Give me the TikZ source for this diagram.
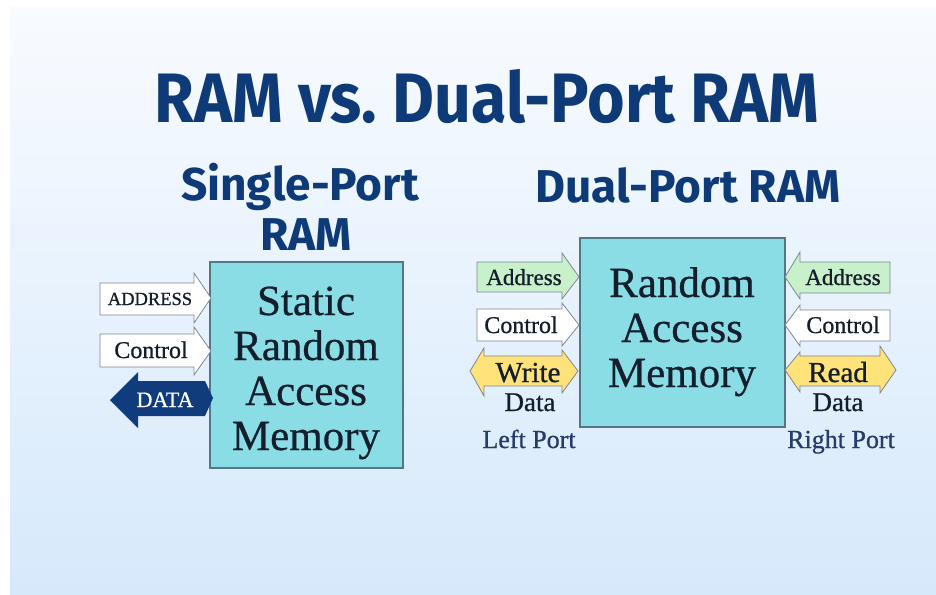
\documentclass[tikz,border=0pt]{standalone}
\usepackage{fontspec}
\setmainfont{Liberation Serif}
\newfontfamily\headfont{Fira Sans}
\newfontfamily\titlefont[FakeStretch=0.92]{Fira Sans}
\newfontfamily\semifont[FakeBold=0.9]{Liberation Serif}
\newfontfamily\memfont[FakeBold=0.6]{Liberation Serif}
\definecolor{navy}{RGB}{14,58,120}
\definecolor{datanavy}{RGB}{16,60,125}
\definecolor{boxfill}{RGB}{138,221,228}
\definecolor{boxline}{RGB}{80,120,135}
\definecolor{greenfill}{RGB}{200,240,202}
\definecolor{yellowfill}{RGB}{255,226,122}
\definecolor{arrline}{RGB}{125,135,150}
\definecolor{porttext}{RGB}{40,60,105}
\definecolor{memtext}{RGB}{20,30,45}
\definecolor{bgtop}{RGB}{248,251,255}
\definecolor{bgbot}{RGB}{214,233,251}
\tikzset{
  headtxt/.style={text=navy, anchor=base, inner sep=0pt},
  memtxt/.style={font=\memfont\fontsize{43}{45}\selectfont, text=memtext, anchor=base, inner sep=0pt},
  membox/.style={fill=boxfill, draw=boxline, line width=1.2pt},
  portarrow/.style={draw=arrline, line width=0.8pt, line join=miter},
  lbl/.style={anchor=base, inner sep=0pt, text=memtext},
  porttxt/.style={anchor=base, inner sep=0pt, font=\semifont\fontsize{26}{28}\selectfont, text=porttext},
}
\begin{document}
\begin{tikzpicture}[x=1pt, y=-1pt]
\useasboundingbox (0,0) rectangle (936,594);
\fill[white] (0,0) rectangle (936,594);
\shade[top color=bgtop, bottom color=bgbot] (10,8) rectangle (936,594);

% titles
\node[headtxt, font=\titlefont\bfseries\fontsize{70}{76}\selectfont] (title) at (487,122) {RAM vs.\ Dual-Port RAM};
\node[headtxt, font=\headfont\bfseries\fontsize{46}{50}\selectfont] (single) at (300,200) {Single-Port};
\node[headtxt, font=\headfont\bfseries\fontsize{46}{50}\selectfont] (singleram) at (306,250) {RAM};
\node[headtxt, font=\headfont\bfseries\fontsize{46}{50}\selectfont] (dual) at (688,202) {Dual-Port RAM};

% ---------- single-port ----------
\draw[membox] (210,262) rectangle (403,468);
\node[memtxt] (s1) at (306,315) {Static};
\node[memtxt] (s2) at (306,360) {Random};
\node[memtxt] (s3) at (306,405) {Access};
\node[memtxt] (s4) at (306,450) {Memory};

\draw[portarrow, fill=white] (100,283) -- (194,283) -- (194,273) -- (211,298) -- (194,323) -- (194,315) -- (100,315) -- cycle;
\node[lbl, font=\semifont\fontsize{18.5}{20}\selectfont] (saddr) at (150,305) {ADDRESS};
\draw[portarrow, fill=white] (100,334) -- (194,334) -- (194,327) -- (211,351) -- (194,375) -- (194,367) -- (100,367) -- cycle;
\node[lbl, font=\semifont\fontsize{24}{26}\selectfont] (sctrl) at (151,358) {Control};
\fill[datanavy] (110,400) -- (138,372) -- (138,381) -- (205,381) -- (213,398) -- (205,416) -- (138,416) -- (138,428) -- cycle;
\node[lbl, font=\semifont\fontsize{22}{24}\selectfont, text=white] (sdata) at (165,407) {DATA};

% ---------- dual-port ----------
\draw[membox] (580,238) rectangle (785,427);
\node[memtxt] (d1) at (682,297) {Random};
\node[memtxt] (d2) at (682,342) {Access};
\node[memtxt] (d3) at (682,387) {Memory};

% left port
\draw[portarrow, fill=greenfill] (477,262) -- (562,262) -- (562,253) -- (579,277) -- (562,299) -- (562,292) -- (477,292) -- cycle;
\node[lbl, font=\semifont\fontsize{23}{25}\selectfont] (laddr) at (524,285) {Address};
\draw[portarrow, fill=white] (477,309) -- (562,309) -- (562,303) -- (579,325) -- (562,346) -- (562,341) -- (477,341) -- cycle;
\node[lbl, font=\semifont\fontsize{24}{26}\selectfont] (lctrl) at (521,333) {Control};
\draw[portarrow, fill=yellowfill] (470,371) -- (484,348) -- (484,356) -- (562,356) -- (562,350) -- (578,371) -- (562,393) -- (562,386) -- (484,386) -- (484,396) -- cycle;
\node[lbl, font=\semifont\fontsize{29}{31}\selectfont] (lwrite) at (528,382) {Write};
\node[lbl, font=\semifont\fontsize{27}{29}\selectfont] (ldata) at (530,411) {Data};
\node[porttxt] (lport) at (529,448) {Left Port};

% right port
\draw[portarrow, fill=greenfill] (785,277) -- (800,252) -- (800,262) -- (890,262) -- (890,293) -- (800,293) -- (800,299) -- cycle;
\node[lbl, font=\semifont\fontsize{23}{25}\selectfont] (raddr) at (843,285) {Address};
\draw[portarrow, fill=white] (785,325) -- (800,305) -- (800,310) -- (890,310) -- (890,341) -- (800,341) -- (800,346) -- cycle;
\node[lbl, font=\semifont\fontsize{24}{26}\selectfont] (rctrl) at (843,333) {Control};
\draw[portarrow, fill=yellowfill] (785,370) -- (800,352) -- (800,356) -- (880,356) -- (880,346) -- (896,370) -- (880,393) -- (880,386) -- (800,386) -- (800,392) -- cycle;
\node[lbl, font=\semifont\fontsize{29}{31}\selectfont] (rread) at (838,382) {Read};
\node[lbl, font=\semifont\fontsize{27}{29}\selectfont] (rdata) at (838,411) {Data};
\node[porttxt] (rport) at (841,448) {Right Port};
\end{tikzpicture}
\end{document}
